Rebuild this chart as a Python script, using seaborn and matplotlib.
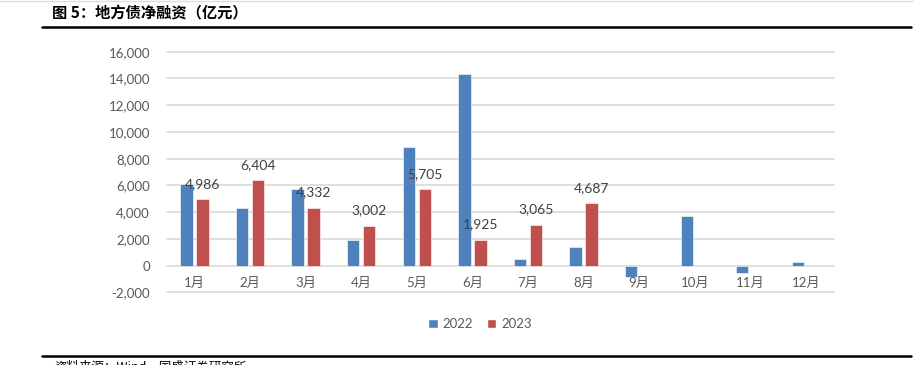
import matplotlib
matplotlib.use("Agg")
import matplotlib.pyplot as plt
import seaborn as sns
import pandas as pd
import numpy as np
from matplotlib.lines import Line2D
from matplotlib.patches import Patch

months = ["1月", "2月", "3月", "4月", "5月", "6月", "7月", "8月", "9月", "10月", "11月", "12月"]
v2022 = [6100, 4300, 5700, 1920, 8850, 14300, 500, 1400, -820, 3740, -520, 270]
v2023 = [4986, 6404, 4332, 3002, 5705, 1925, 3065, 4687, np.nan, np.nan, np.nan, np.nan]
series = ["2022", "2023"]
colors = ["#4F81BD", "#C0504D"]
yticks = list(range(-2000, 16001, 2000))

sns.set_theme(style="white")
FONT = ["Lato", "Noto Sans CJK SC", "DejaVu Sans"]
plt.rcParams["font.family"] = FONT

df = pd.DataFrame({
    "月份": months * 2,
    "值": v2022 + v2023,
    "年份": [series[0]] * 12 + [series[1]] * 12,
})

fig = plt.figure(figsize=(9.2, 3.65), dpi=100)
ax = fig.add_axes([166.7 / 920, 1 - 292.5 / 365, 667 / 920, (292.5 - 51.7) / 365])

sns.barplot(data=df, x="月份", y="值", hue="年份", palette=colors, order=months,
            hue_order=series, width=0.576, gap=0.23, ax=ax, legend=False,
            edgecolor="white", linewidth=0.4, saturation=1)

ax.set_ylim(-2000, 16000)
ax.set_xlim(-0.5, 11.5)
ax.set_yticks(yticks)
ax.set_yticklabels([f"{t:,}" for t in yticks], color="#595959", fontsize=9.5)
ax.tick_params(axis="y", length=0, pad=12)
ax.set_xticks([])
ax.set_xlabel("")
ax.set_ylabel("")
for s in ax.spines.values():
    s.set_visible(False)
ax.yaxis.grid(True, color="#D9D9D9", linewidth=1.2)
ax.set_axisbelow(True)
for line in ax.get_ygridlines():
    line.set_clip_on(False)

for i, m in enumerate(months):
    ax.text(i, -1300, m, ha="center", va="center", fontsize=9.5, color="#595959")

for i, v in enumerate(v2023):
    if not np.isnan(v):
        ax.text(i + 0.144, v + 1150, f"{int(v):,}", ha="center", va="center",
                fontsize=10, color="#404040")

handles = [Patch(facecolor=colors[0]), Patch(facecolor=colors[1])]
fig.legend(handles, series, loc="center", bbox_to_anchor=(480 / 920, 1 - 324 / 365),
           ncol=2, frameon=False, fontsize=9.5, labelcolor="#595959",
           handlelength=0.75, handleheight=0.75, handletextpad=0.4, columnspacing=1.0)

# title and rules
fig.text(52 / 920, 1 - 13 / 365, "图 5：地方债净融资（亿元）", ha="left", va="center",
         fontsize=11, fontweight="bold", color="black",
         family=["Noto Sans CJK SC", "DejaVu Sans"])
fig.add_artist(Line2D([0, 913 / 920], [1 - 0.5 / 365] * 2, color="#F2D4D4", linewidth=1))
fig.add_artist(Line2D([42 / 920, 911 / 920], [1 - 26.5 / 365] * 2, color="black", linewidth=1.8))
fig.add_artist(Line2D([42 / 920, 911 / 920], [1 - 355.5 / 365] * 2, color="black", linewidth=1.8))
fig.text(54 / 920, 1 - 360.5 / 365, "资料来源：Wind，国盛证券研究所", ha="left", va="top",
         fontsize=9, color="black", family=["Noto Sans CJK SC", "DejaVu Sans"])

fig.savefig("out.png", dpi=100)
